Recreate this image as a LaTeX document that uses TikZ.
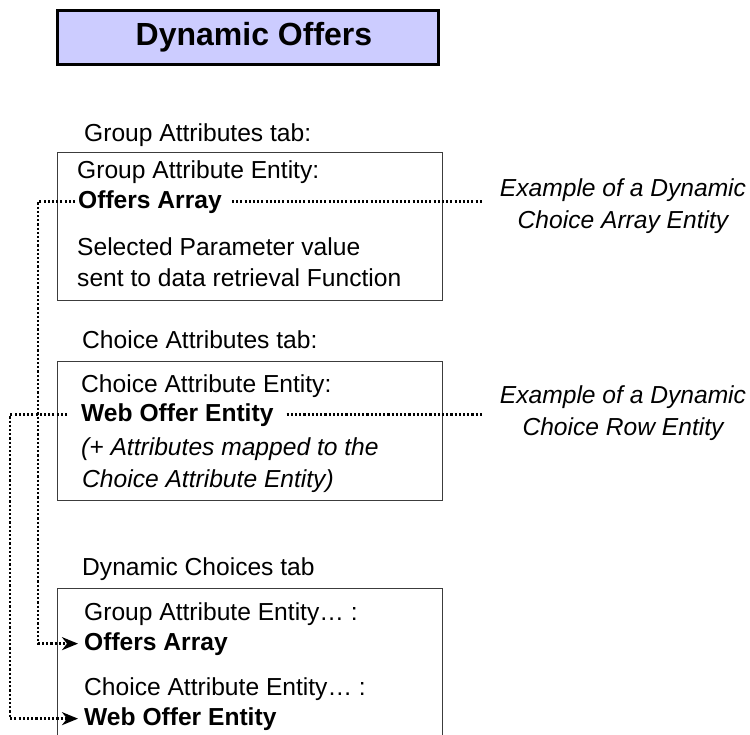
\documentclass[tikz,border=0pt]{standalone}
\usepackage{fontspec}
\setmainfont{Liberation Sans}
\usetikzlibrary{arrows.meta}
\definecolor{titleblue}{RGB}{204,204,255}
\definecolor{panelline}{RGB}{60,60,60}
\begin{document}
\begin{tikzpicture}[x=1pt,y=-1pt,
  txt/.style={inner sep=0pt, anchor=base west, font=\fontsize{24.6}{29}\selectfont},
  btxt/.style={txt, font=\fontsize{24.6}{29}\selectfont\bfseries},
  itxt/.style={txt, font=\fontsize{24.6}{29}\selectfont\itshape},
  etxt/.style={inner sep=0pt, anchor=base, font=\fontsize{24.6}{29}\selectfont\itshape},
  panel/.style={draw=panelline, line width=1.3pt, anchor=north west, inner sep=0pt},
  dotline/.style={line width=2.3pt, dash pattern=on 2.1pt off 2.1pt},
  tipend/.style={-{Stealth[length=16pt,width=13pt,inset=5pt]}}
]
\useasboundingbox (0,0) rectangle (750,734);
\clip (0,0) rectangle (750,734);

% title
\node[draw=black, line width=3pt, fill=titleblue, minimum width=381pt, minimum height=54pt,
      inner sep=0pt, font=\fontsize{32}{38}\selectfont\bfseries] (title) at (248,37.5)
      {\hspace*{12pt}\raisebox{-3pt}{Dynamic Offers}};

% panels
\node[panel, minimum width=385pt, minimum height=148pt] (b1) at (57,152) {};
\node[panel, minimum width=385pt, minimum height=139pt] (b2) at (57,361) {};
\node[panel, minimum width=385pt, minimum height=180pt] (b3) at (57,588) {};

% tab labels
\node[txt] (lab1) at (84,141) {Group Attributes tab:};
\node[txt] (lab2) at (82,348) {Choice Attributes tab:};
\node[txt] (lab3) at (82,575) {Dynamic Choices tab};

% panel 1
\node[txt]  (g1)  at (77,178) {Group Attribute Entity:};
\node[btxt] (oa1) at (78,208) {Offers Array};
\node[txt]  (s1)  at (77,255) {Selected Parameter value};
\node[txt]  (s2)  at (77,286) {sent to data retrieval Function};

% panel 2
\node[txt]  (c1)  at (81,392) {Choice Attribute Entity:};
\node[btxt] (wo2) at (81,421) {Web Offer Entity};
\node[itxt] (m1)  at (81,455) {(+ Attributes mapped to the};
\node[itxt] (m2)  at (82,487) {Choice Attribute Entity)};

% panel 3
\node[txt]  (g3)  at (84,620) {Group Attribute Entity… :};
\node[btxt] (oa3) at (84,650) {Offers Array};
\node[txt]  (c3)  at (84,695) {Choice Attribute Entity… :};
\node[btxt] (wo3) at (84,725) {Web Offer Entity};

% example notes
\node[etxt] (exA1) at (623,196) {Example of a Dynamic};
\node[etxt] (exA2) at (623,228) {Choice Array Entity};
\node[etxt] (exB1) at (623,403) {Example of a Dynamic};
\node[etxt] (exB2) at (623,435) {Choice Row Entity};

% connectors
\coordinate (cx1) at (38,0);
\coordinate (cx2) at (10,0);
\draw[dotline, shorten <=10pt, shorten >=17pt] (oa1.east) -- (oa1.east -| exA1.west);
\draw[dotline, shorten <=13pt, shorten >=17pt] (wo2.east) -- (wo2.east -| exB1.west);
\draw[dotline, tipend, shorten <=3pt, shorten >=6pt]
  (oa1.west) -- (oa1.west -| cx1) -- (oa3.west -| cx1) -- (oa3.west);
\draw[dotline, tipend, shorten <=14pt, shorten >=6pt]
  (wo2.west) -- (wo2.west -| cx2) -- (wo3.west -| cx2) -- (wo3.west);
\end{tikzpicture}
\end{document}
